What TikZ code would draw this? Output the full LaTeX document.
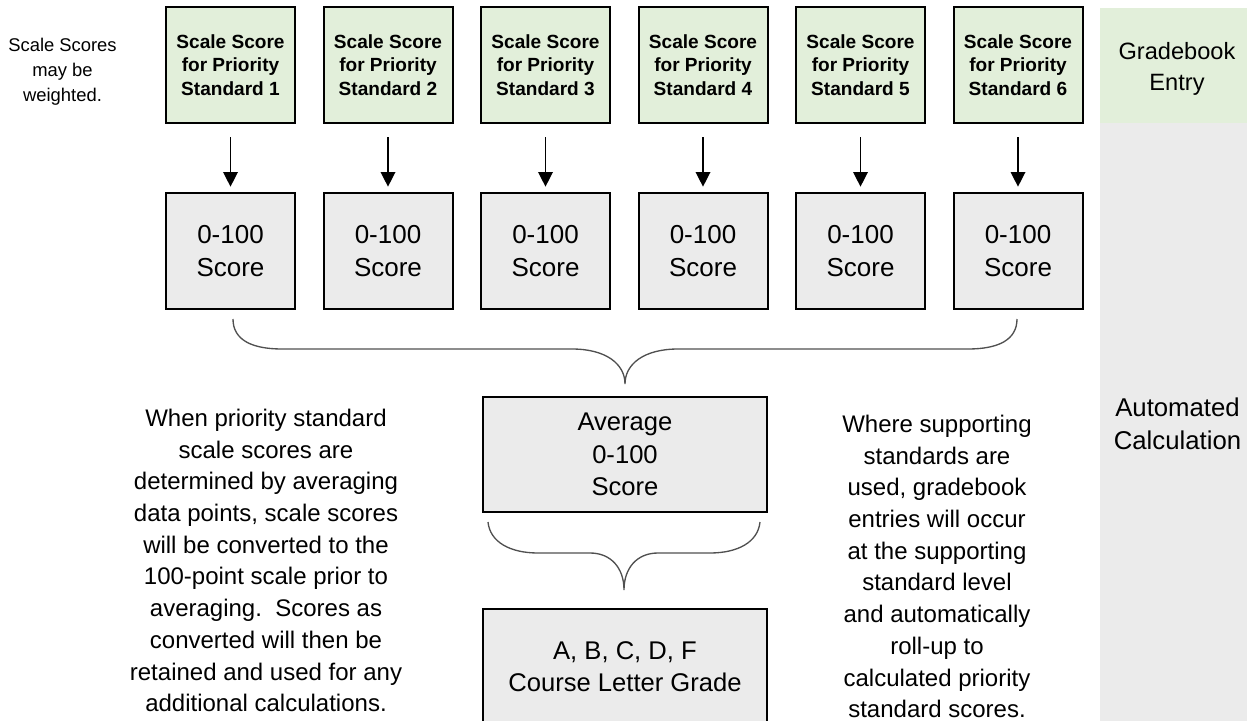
\documentclass[tikz,border=0pt]{standalone}
\usepackage{fontspec}
\setmainfont{Liberation Sans}
\usetikzlibrary{arrows.meta}
\definecolor{boxgreen}{RGB}{226,239,218}
\definecolor{boxgray}{RGB}{235,235,235}
\definecolor{bracegray}{RGB}{80,80,80}
\begin{document}
\begin{tikzpicture}[x=0.75pt, y=-0.75pt,
        greenbox/.style={draw, line width=1.5pt, fill=boxgreen, minimum width=96.75pt, minimum height=87pt, inner sep=0pt, align=center, font=\bfseries\fontsize{14.3}{17.4}\selectfont},
        scorebox/.style={draw, line width=1.5pt, fill=boxgray, minimum width=96.75pt, minimum height=87pt, inner sep=0pt, align=center, font=\fontsize{19.5}{24.75}\selectfont},
        calcbox/.style={draw, line width=1.5pt, fill=boxgray, minimum width=213pt, minimum height=86.5pt, inner sep=0pt, align=center, font=\fontsize{19.2}{24.2}\selectfont},
        note/.style={align=center, inner sep=0pt, font=\fontsize{18}{23.8}\selectfont},
        flow/.style={line width=1pt, -{Stealth[length=11pt, width=11pt, inset=0pt]}, shorten <=9.75pt, shorten >=4pt},
        brace/.style={line width=1pt, bracegray}]
        \useasboundingbox (0,0) rectangle (1247,721);
        \fill[boxgreen] (1100,8) rectangle (1247,123);
        \fill[boxgray] (1100,123) rectangle (1247,721);
        \node[align=center, font=\fontsize{17.7}{23.2}\selectfont] (entry) at (1177,69) {Gradebook\\Entry};
        \node[align=center, font=\fontsize{19.3}{24.7}\selectfont] (calc) at (1177.5,423.5) {Automated\\Calculation};
        \node[align=center, font=\fontsize{13.8}{18.75}\selectfont] (weight) at (62.5,72) {Scale Scores\\may be\\weighted.};
        \foreach \i in {1,...,6} {
            \node[greenbox] (g\i) at ({230.5+157.5*(\i-1)},65) {Scale Score\\for Priority\\Standard \i};
            \node[scorebox] (s\i) at ({230.5+157.5*(\i-1)},251) {0-100\\Score};
            \draw[flow] (g\i) -- (s\i);
        }
        \coordinate (b1l) at (233,319);
        \coordinate (b1r) at (1017,319);
        \coordinate (b1t) at (625,384);
        \draw[brace] (b1l) .. controls (233,340) and (252,349) .. (282,349) -- (572,349) .. controls (606,349) and (625,364) .. (b1t) .. controls (625,364) and (644,349) .. (678,349) -- (968,349) .. controls (998,349) and (1017,340) .. (b1r);
        \node[calcbox] (avg) at (625,454.5) {Average\\0-100\\Score};
        \coordinate (b2l) at (488,522);
        \coordinate (b2r) at (760,522);
        \coordinate (b2t) at (624,590);
        \draw[brace] (b2l) .. controls (490,542) and (510,553) .. (538,553) -- (590,553) .. controls (611,553) and (624,568) .. (b2t) .. controls (624,568) and (637,553) .. (658,553) -- (710,553) .. controls (738,553) and (758,542) .. (b2r);
        \node[calcbox, minimum height=87pt] (grade) at (625,667) {A, B, C, D, F\\Course Letter Grade};
        \node[note] (left) at (266,560.5) {When priority standard\\scale scores are\\determined by averaging\\data points, scale scores\\will be converted to the\\100-point scale prior to\\averaging.~~Scores as\\converted will then be\\retained and used for any\\additional calculations.};
        \node[note] (right) at (937,566.5) {Where supporting\\standards are\\used, gradebook\\entries will occur\\at the supporting\\standard level\\and automatically\\roll-up to\\calculated priority\\standard scores.};
    \end{tikzpicture}
\end{document}
